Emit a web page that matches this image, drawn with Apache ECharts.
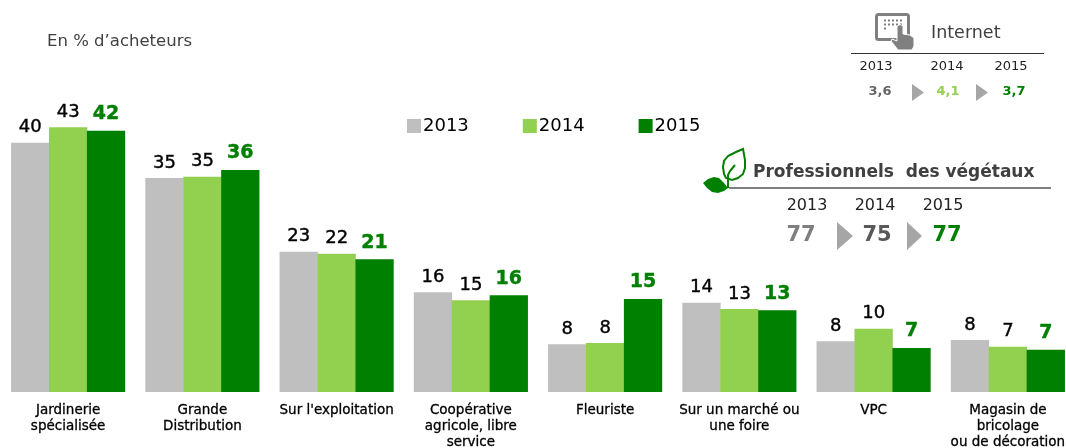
<!DOCTYPE html>
<html><head><meta charset="utf-8">
<style>html,body{margin:0;padding:0;background:#fff}#c{width:1066px;height:448px}</style>
<script src="https://cdn.jsdelivr.net/npm/echarts@6/dist/echarts.min.js"></script>
</head><body><div id="c"></div>
<script>
const categories = ['Jardinerie\nspécialisée','Grande\nDistribution','Sur l\'exploitation','Coopérative\nagricole, libre\nservice','Fleuriste','Sur un marché ou\nune foire','VPC','Magasin de\nbricolage\nou de décoration'];
const years = ['2013','2014','2015'];
const values2013 = [40.2,34.5,22.6,16.1,7.7,14.4,8.2,8.4];
const values2014 = [42.7,34.7,22.3,14.8,7.9,13.4,10.2,7.3];
const values2015 = [42.1,35.8,21.4,15.6,15.0,13.2,7.1,6.8];
const labels2013 = [40,35,23,16,8,14,8,8];
const labels2014 = [43,35,22,15,8,13,10,7];
const labels2015 = [42,36,21,16,15,13,7,7];
const internetValues = ['3,6','4,1','3,7'];
const proValues = ['77','75','77'];

const GREY='#bfbfbf', LIGHT='#92d050', GREEN='#008000';
const FONT='"DejaVu Sans", Verdana, sans-serif';
function txt(x,y,text,size,fill,weight,align){return {type:'text',silent:true,style:{x,y,text,fill,font:(weight||'normal')+' '+size+'px '+FONT,textAlign:align||'center',textVerticalAlign:'middle'}};}
function tri(x,y0,y1,w){return {type:'polygon',silent:true,shape:{points:[[x,y0],[x+w,(y0+y1)/2],[x,y1]]},style:{fill:'#a6a6a6'}};}
function hline(x1,x2,y,color,lw){return {type:'line',silent:true,shape:{x1,y1:y,x2,y2:y},style:{stroke:color,lineWidth:lw}};}
function bar(name,values,labels,color,labelColor,weight,size,dist){
  return {name,type:'bar',data:values,barWidth:38.3,barGap:'-1%',itemStyle:{color},animation:false,
    label:{show:true,position:'top',distance:dist,color:labelColor,fontFamily:FONT,fontWeight:weight,fontSize:size,
      textBorderColor:labelColor,textBorderWidth:0.4,
      formatter:p=>String(labels[p.dataIndex])}};
}
const graphics=[
  txt(47,42,'En % d’acheteurs',16.5,'#404040','normal','left'),
  // Internet panel
  {type:'rect',silent:true,shape:{x:876.5,y:14.5,width:32,height:25,r:2},style:{fill:'#fff',stroke:'#808080',lineWidth:3}},
  {type:'line',silent:true,shape:{x1:884,y1:20.5,x2:902,y2:20.5},style:{stroke:'#808080',lineWidth:2,lineDash:[2,2]}},
  {type:'line',silent:true,shape:{x1:884,y1:24.5,x2:902,y2:24.5},style:{stroke:'#808080',lineWidth:2,lineDash:[2,2]}},
  {type:'line',silent:true,shape:{x1:884,y1:28.5,x2:888,y2:28.5},style:{stroke:'#808080',lineWidth:2,lineDash:[2,2]}},
  {type:'polygon',silent:true,shape:{points:[[897,26],[900,24.5],[903,26],[903,34],[910,35],[914,38],[914,46],[912,50],[898,50],[891,41],[892,39],[897,41]]},style:{fill:'#808080',stroke:'#fff',lineWidth:1}},
  txt(931,33,'Internet',17.5,'#404040','normal','left'),
  hline(851,1044,53.5,'#333333',1),
  txt(876,67,years[0],13,'#222'),txt(947,67,years[1],13,'#222'),txt(1011,67,years[2],13,'#222'),
  txt(880,92,internetValues[0],13,'#666666','bold'),
  txt(948,92,internetValues[1],13,LIGHT,'bold'),
  txt(1014,92,internetValues[2],13,GREEN,'bold'),
  tri(912,84,101,12),tri(976,84,101,12),
  // Professionnels panel
  {type:'polygon',silent:true,shape:{points:[[743,149],[736,152],[728,156],[724,161],[723,167],[724,174],[726,178],[732,180],[738,178],[743,174],[745,168],[745,160]]},style:{fill:'none',stroke:GREEN,lineWidth:2}},
  {type:'polyline',silent:true,shape:{points:[[728,188],[728,175],[730,171],[735,165]]},style:{fill:'none',stroke:GREEN,lineWidth:2}},
  {type:'polygon',silent:true,shape:{points:[[703,183],[708,179],[714,177],[719,178],[724,183],[728,188],[724,191],[718,193],[712,192],[707,188]]},style:{fill:GREEN}},
  txt(753,172.5,'Professionnels  des végétaux',17,'#404040','bold','left'),
  hline(729,1051,188,'#7f7f7f',2),
  txt(807,206,years[0],16,'#222'),txt(875,206,years[1],16,'#222'),txt(943,206,years[2],16,'#222'),
  txt(801,236,proValues[0],21,'#7f7f7f','bold'),
  txt(877,236,proValues[1],21,'#595959','bold'),
  txt(947,236,proValues[2],21,GREEN,'bold'),
  tri(837,222,250,16),tri(907,222,250,15)
];
const chart=echarts.init(document.getElementById('c'),null,{renderer:'canvas'});
chart.setOption({
  animation:false,
  backgroundColor:'#fff',
  grid:{left:1,width:1074,top:0,bottom:56,outerBoundsMode:'none',containLabel:false},
  xAxis:{type:'category',data:categories,axisLine:{show:false},axisTick:{show:false},
    axisLabel:{interval:0,margin:10,color:'#000',fontFamily:FONT,fontSize:13.5,lineHeight:16,verticalAlign:'top',textBorderColor:'#000',textBorderWidth:0.3}},
  yAxis:{type:'value',min:0,max:63.2,show:false,splitLine:{show:false}},
  legend:{left:407,top:117,padding:0,itemWidth:14,itemHeight:14,itemGap:54,icon:'rect',
    textStyle:{fontFamily:FONT,fontSize:18,color:'#000',padding:[0,0,0,-3]},data:years},
  series:[
    bar(years[0],values2013,labels2013,GREY,'#000','normal',18,6),
    bar(years[1],values2014,labels2014,LIGHT,'#000','normal',18,6),
    bar(years[2],values2015,labels2015,GREEN,GREEN,'bold',19,7)
  ],
  graphic:{elements:graphics}
});
</script></body></html>
